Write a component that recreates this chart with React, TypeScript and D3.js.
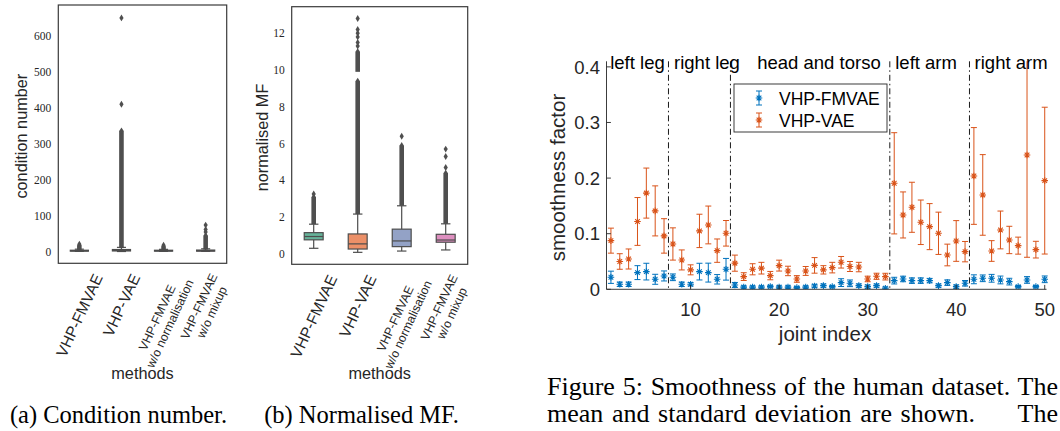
import React, { useEffect, useRef } from "react";
import * as d3 from "d3";

const SANS = "'Liberation Sans', Arial, sans-serif";
const SERIF = "'Liberation Serif', serif";
const HELV = "'Liberation Sans', Arial, sans-serif";

// ---- panels (a) and (b): box plots ----
const methods = ["VHP-FMVAE", "VHP-VAE", "VHP-FMVAE\nw/o normalisation", "VHP-FMVAE\nw/o mixup"];
const boxColors = ["#66b39a", "#ec9068", "#93a2c6", "#dd8fbf"];

// [whisker low, q1, median, q3, whisker high]
const condBoxes = [
  [0.8, 1.5, 2.5, 4, 7],
  [0.5, 2, 3.5, 6, 12],
  [0.8, 1.5, 2.5, 4, 6.5],
  [0.8, 1.5, 2.5, 4.5, 8],
];
// runs of outliers so dense that they read as one column
const condDense = [[[5, 18]], [[10, 336]], [[5, 15]], [[6, 45]]];
const condSingles = [[21], [410, 650], [18], [55, 62, 74]];
const condTicks = [0, 100, 200, 300, 400, 500, 600];

const mfBoxes = [
  [0.31, 0.77, 0.95, 1.16, 1.62],
  [0.09, 0.27, 0.55, 1.09, 2.17],
  [0.16, 0.4, 0.71, 1.35, 2.62],
  [0.22, 0.64, 0.76, 1.07, 1.64],
];
const mfDense = [[[1.62, 3.1]], [[2.17, 9.4], [9.9, 11.0]], [[2.62, 5.9]], [[1.64, 4.4]]];
const mfSingles = [[3.26], [11.3, 11.5, 11.8, 12.0, 12.2, 12.8], [6.4], [4.7, 5.3, 5.7]];
const mfTicks = [0, 2, 4, 6, 8, 10, 12];

// ---- panel (c): smoothness per joint ----
const fmvaeMean = [
  0.0216, 0.009, 0.009, 0.03, 0.0318, 0.018, 0.024,
  0.0216, 0.009, 0.009, 0.0318, 0.03, 0.018, 0.036,
  0.0078, 0.004, 0.004, 0.004, 0.005, 0.004, 0.004, 0.003, 0.004, 0.006, 0.0066, 0.0048, 0.012, 0.0108, 0.0066, 0.0048, 0.0066, 0.002,
  0.0156, 0.0186, 0.0156, 0.0156, 0.0156, 0.0066, 0.012, 0.0048, 0.0108,
  0.018, 0.0198, 0.0198, 0.0168, 0.0138, 0.0048, 0.0168, 0.0048, 0.018,
];
const fmvaeStd = [
  0.011, 0.004, 0.004, 0.0125, 0.015, 0.009, 0.009,
  0.006, 0.004, 0.003, 0.015, 0.017, 0.0085, 0.0195,
  0.0045, 0.002, 0.002, 0.002, 0.002, 0.002, 0.002, 0.002, 0.002, 0.003, 0.003, 0.002, 0.007, 0.006, 0.003, 0.003, 0.003, 0.002,
  0.006, 0.005, 0.005, 0.005, 0.004, 0.003, 0.005, 0.003, 0.005,
  0.008, 0.006, 0.007, 0.007, 0.006, 0.002, 0.006, 0.002, 0.006,
];
const vaeMean = [
  0.0875, 0.05, 0.0545, 0.122, 0.173, 0.141, 0.096,
  0.0815, 0.0528, 0.035, 0.105, 0.1157, 0.0695, 0.1007,
  0.047, 0.0228, 0.036, 0.038, 0.0246, 0.0426, 0.033, 0.0186, 0.033, 0.043, 0.035, 0.039, 0.0486, 0.041, 0.04, 0.0186, 0.0234, 0.0228,
  0.1906, 0.1337, 0.1475, 0.1205, 0.1127, 0.1007, 0.0617, 0.0869, 0.0677,
  0.2038, 0.1697, 0.0689, 0.1067, 0.0887, 0.0785, 0.2416, 0.0713, 0.1954,
];
const vaeStd = [
  0.0225, 0.014, 0.018, 0.043, 0.045, 0.045, 0.031,
  0.029, 0.018, 0.009, 0.03, 0.034, 0.021, 0.023,
  0.0145, 0.007, 0.01, 0.0105, 0.0075, 0.0098, 0.0085, 0.006, 0.008, 0.014, 0.0075, 0.0095, 0.0104, 0.009, 0.0085, 0.005, 0.0055, 0.006,
  0.091, 0.0414, 0.045, 0.04, 0.0414, 0.038, 0.0195, 0.0366, 0.0183,
  0.087, 0.0725, 0.0186, 0.034, 0.0246, 0.0153, 0.184, 0.015, 0.132,
];
const sectionNames = ["left leg", "right leg", "head and torso", "left arm", "right arm"];
const sectionBounds = [7.5, 14.5, 32.5, 41.5];
const sectionLabelAt = [4.0, 11.85, 24.5, 36.6, 46.2];
const xTicks = [10, 20, 30, 40, 50];
const yTicks = [0, 0.1, 0.2, 0.3, 0.4];
const seriesNames = ["VHP-FMVAE", "VHP-VAE"];
const seriesColors = ["#0072BD", "#D95319"];

const diamond = "M0,-3.4L2.1,0L0,3.4L-2.1,0Z";
const star = (r: number) => {
  const d = r * 0.7071;
  return `M${-r},0H${r}M0,${-r}V${r}M${-d},${-d}L${d},${d}M${-d},${d}L${d},${-d}`;
};

function boxPanel(svg: any, p: any) {
  const { left, right, top, bottom, yDomain, ticks, boxes, dense, singles } = p;
  const x = d3.scaleBand<string>().domain(methods).range([left, right]);
  const y = d3.scaleLinear().domain(yDomain).range([bottom, top]);
  const g = svg.append("g");
  const bw = x.bandwidth() * 0.43;
  const line = "#4d4d4d";

  methods.forEach((m, i) => {
    const cx = (x(m) as number) + x.bandwidth() / 2;
    const [wl, q1, md, q3, wh] = boxes[i];
    const seg = (x1: number, y1: number, x2: number, y2: number) =>
      g.append("line").attr("x1", x1).attr("y1", y1).attr("x2", x2).attr("y2", y2)
        .attr("stroke", line).attr("stroke-width", 1.2);
    dense[i].forEach(([lo, hi]: number[]) => {
      g.append("rect").attr("x", cx - 2.3).attr("width", 4.6)
        .attr("y", y(hi)).attr("height", Math.max(1, y(lo) - y(hi))).attr("fill", "#4f4f4f");
      g.append("path").attr("d", diamond).attr("transform", `translate(${cx},${y(hi)})`).attr("fill", "#4f4f4f");
    });
    singles[i].forEach((v: number) => {
      g.append("path").attr("d", diamond).attr("transform", `translate(${cx},${y(v)})`).attr("fill", "#4f4f4f");
    });
    seg(cx, y(wl), cx, y(q1));
    seg(cx, y(q3), cx, y(wh));
    seg(cx - bw / 4, y(wl), cx + bw / 4, y(wl));
    seg(cx - bw / 4, y(wh), cx + bw / 4, y(wh));
    g.append("rect").attr("x", cx - bw / 2).attr("width", bw)
      .attr("y", y(q3)).attr("height", Math.max(0.5, y(q1) - y(q3)))
      .attr("fill", boxColors[i]).attr("stroke", line).attr("stroke-width", 1.2);
    seg(cx - bw / 2, y(md), cx + bw / 2, y(md));
  });

  g.append("rect").attr("x", left).attr("y", top).attr("width", right - left).attr("height", bottom - top)
    .attr("fill", "none").attr("stroke", "#3a3a3a").attr("stroke-width", 1.2);

  ticks.forEach((t: number) => {
    g.append("text").attr("x", left - 7).attr("y", y(t)).attr("dy", "0.35em")
      .attr("text-anchor", "end").attr("font-family", SERIF).attr("font-size", 11.5)
      .attr("fill", "#262626").text(t);
  });

  // rotated category labels, bbox centred under each category
  const angle = 65;
  const th = (angle * Math.PI) / 180;
  methods.forEach((m) => {
    const cx = (x(m) as number) + x.bandwidth() / 2;
    const lines = m.split("\n");
    const lg = g.append("g");
    const t = lg.append("text").attr("text-anchor", "middle").attr("font-family", SANS)
      .attr("font-size", lines.length > 1 ? 12.3 : 15.5).attr("fill", "#262626");
    lines.forEach((ln, k) => t.append("tspan").attr("x", 0).attr("dy", k === 0 ? 0 : "1.15em").text(ln));
    const bb = (t.node() as SVGTextElement).getBBox();
    const vert = bb.width * Math.sin(th) + bb.height * Math.cos(th);
    lg.attr("transform",
      `translate(${cx},${bottom + 8 + vert / 2}) rotate(${-angle}) translate(${-(bb.x + bb.width / 2)},${-(bb.y + bb.height / 2)})`);
  });

  g.append("text").attr("transform", `translate(${p.yLabelX},${(top + bottom) / 2 + 2}) rotate(-90)`)
    .attr("text-anchor", "middle").attr("font-family", SANS).attr("font-size", 16.3)
    .attr("fill", "#262626").text(p.yLabel);
  g.append("text").attr("x", (left + right) / 2).attr("y", 379)
    .attr("text-anchor", "middle").attr("font-family", SANS).attr("font-size", 16.3)
    .attr("fill", "#262626").text("methods");
  g.append("text").attr("x", p.captionX).attr("y", 423).attr("text-anchor", "middle")
    .attr("font-family", SERIF).attr("font-size", 24.5).attr("fill", "#000").text(p.caption);
}

function smoothPanel(svg: any) {
  const x = d3.scaleLinear().domain([0.5, 50.2]).range([606.5, 1046.5]);
  const y = d3.scaleLinear().domain([0, 0.41]).range([289.3, 61.3]);
  const g = svg.append("g");
  const axisCol = "#262626";

  g.append("clipPath").attr("id", "plotclip").append("rect")
    .attr("x", x(0.5) - 10).attr("y", y(0.41)).attr("width", x(50.2) - x(0.5) + 20).attr("height", y(0) - y(0.41));

  // section separators
  sectionBounds.forEach((b) => {
    g.append("line").attr("x1", x(b)).attr("x2", x(b)).attr("y1", y(0.41)).attr("y2", y(0))
      .attr("stroke", "#000").attr("stroke-width", 0.9).attr("stroke-dasharray", "6,3,1.5,3");
  });

  const plot = g.append("g").attr("clip-path", "url(#plotclip)");
  [[fmvaeMean, fmvaeStd], [vaeMean, vaeStd]].forEach(([mean, sd], s) => {
    const col = seriesColors[s];
    mean.forEach((v, i) => {
      const cx = x(i + 1);
      const lo = y(v - sd[i]);
      const hi = y(v + sd[i]);
      plot.append("path")
        .attr("d", `M${cx},${lo}V${hi}M${cx - 3},${lo}H${cx + 3}M${cx - 3},${hi}H${cx + 3}`)
        .attr("stroke", col).attr("stroke-width", 1).attr("fill", "none");
      plot.append("path").attr("d", star(3.3)).attr("transform", `translate(${cx},${y(v)})`)
        .attr("stroke", col).attr("stroke-width", 1.1).attr("fill", "none");
    });
  });

  // axes
  g.append("line").attr("x1", x(0.5)).attr("x2", x(0.5)).attr("y1", y(0.41)).attr("y2", y(0))
    .attr("stroke", axisCol).attr("stroke-width", 0.9);
  g.append("line").attr("x1", x(0.5)).attr("x2", x(50.2)).attr("y1", y(0)).attr("y2", y(0))
    .attr("stroke", axisCol).attr("stroke-width", 0.9);
  yTicks.forEach((t) => {
    g.append("line").attr("x1", x(0.5)).attr("x2", x(0.5) + 4.4).attr("y1", y(t)).attr("y2", y(t))
      .attr("stroke", axisCol).attr("stroke-width", 0.9);
    g.append("text").attr("x", 600).attr("y", y(t)).attr("dy", "0.36em").attr("text-anchor", "end")
      .attr("font-family", HELV).attr("font-size", 18.5).attr("fill", axisCol).text(t === 0 ? "0" : String(t));
  });
  xTicks.forEach((t) => {
    g.append("line").attr("x1", x(t)).attr("x2", x(t)).attr("y1", y(0)).attr("y2", y(0) - 4.4)
      .attr("stroke", axisCol).attr("stroke-width", 0.9);
    g.append("text").attr("x", x(t)).attr("y", 315.5).attr("text-anchor", "middle")
      .attr("font-family", HELV).attr("font-size", 18.5).attr("fill", axisCol).text(t);
  });
  g.append("text").attr("x", 825).attr("y", 340.5).attr("text-anchor", "middle")
    .attr("font-family", HELV).attr("font-size", 20.5).attr("fill", axisCol).text("joint index");
  g.append("text").attr("transform", "translate(565,177.5) rotate(-90)").attr("text-anchor", "middle")
    .attr("font-family", HELV).attr("font-size", 20.5).attr("fill", axisCol).text("smoothness factor");

  sectionNames.forEach((n, i) => {
    g.append("text").attr("x", x(sectionLabelAt[i])).attr("y", 69).attr("text-anchor", "middle")
      .attr("font-family", HELV).attr("font-size", 18.5).attr("fill", "#000").text(n);
  });

  // legend
  const lg = g.append("g");
  lg.append("rect").attr("x", 734).attr("y", 84).attr("width", 153).attr("height", 48)
    .attr("fill", "#fff").attr("stroke", axisCol).attr("stroke-width", 0.9);
  seriesNames.forEach((n, s) => {
    const cy = 98 + s * 22;
    const col = seriesColors[s];
    lg.append("path").attr("d", `M759,${cy - 7}V${cy + 7}M756,${cy - 7}H762M756,${cy + 7}H762`)
      .attr("stroke", col).attr("stroke-width", 1).attr("fill", "none");
    lg.append("path").attr("d", star(3.3)).attr("transform", `translate(759,${cy})`)
      .attr("stroke", col).attr("stroke-width", 1.1).attr("fill", "none");
    lg.append("text").attr("x", 779).attr("y", cy + 6.5).attr("font-family", HELV)
      .attr("font-size", 17.5).attr("fill", "#000").text(n);
  });

  // caption, justified
  const justify = (sel: any, target: number) => {
    const len = (sel.node() as SVGTextElement).getComputedTextLength();
    const spaces = (sel.text().match(/ /g) || []).length;
    if (spaces > 0) sel.attr("word-spacing", (target - len) / spaces);
  };
  const cap = (txt: string, xx: number, yy: number, anchor = "start") =>
    g.append("text").attr("x", xx).attr("y", yy).attr("text-anchor", anchor)
      .attr("font-family", SERIF).attr("font-size", 26).attr("fill", "#000").text(txt);
  justify(cap("Figure 5: Smoothness of the human dataset. The", 547, 395), 1058 - 547);
  justify(cap("mean and standard deviation are shown.", 547, 422), 975 - 547);
  cap("The", 1058, 422, "end");
}

export default function App() {
  const ref = useRef<SVGSVGElement>(null);
  useEffect(() => {
    const svg = d3.select(ref.current);
    svg.selectAll("*").remove();
    svg.append("rect").attr("width", 1060).attr("height", 431).attr("fill", "#fff");
    boxPanel(svg, {
      left: 58.3, right: 226.7, top: 5, bottom: 263.3,
      yDomain: [-32.3, 686], ticks: condTicks,
      boxes: condBoxes, dense: condDense, singles: condSingles,
      yLabel: "condition number", yLabelX: 26.5,
      caption: "(a) Condition number.", captionX: 118.5,
    });
    boxPanel(svg, {
      left: 291.7, right: 467.7, top: 6.7, bottom: 264.3,
      yDomain: [-0.56, 13.44], ticks: mfTicks,
      boxes: mfBoxes, dense: mfDense, singles: mfSingles,
      yLabel: "normalised MF", yLabelX: 268,
      caption: "(b) Normalised MF.", captionX: 361.5,
    });
    smoothPanel(svg);
  }, []);
  return (
    <svg ref={ref} width={1060} height={431}
      style={{ position: "absolute", left: 0, top: 0, display: "block" }} />
  );
}
